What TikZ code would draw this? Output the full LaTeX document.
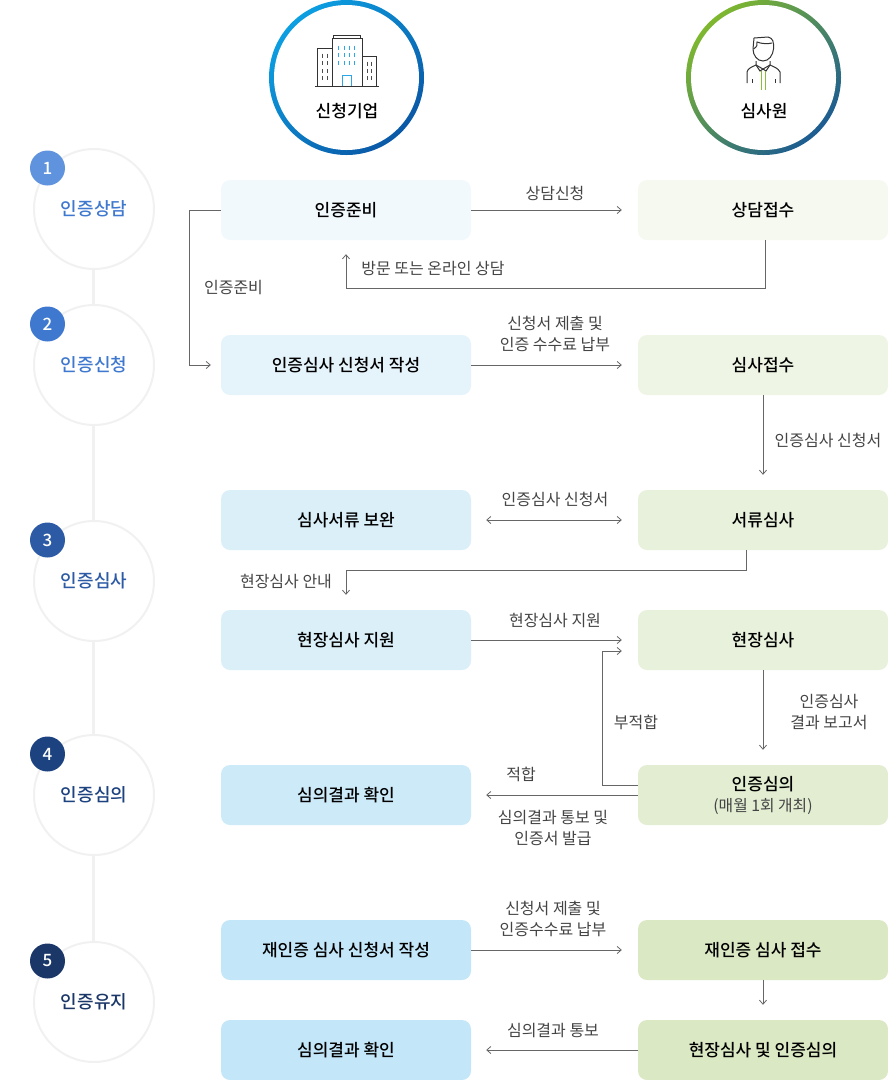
\documentclass[tikz,border=0pt]{standalone}
\usepackage{fontspec}
\setmainfont{Noto Sans CJK KR}
\newfontfamily\krmed{Noto Sans CJK KR Medium}
\usetikzlibrary{arrows.meta, calc}
\definecolor{linegray}{HTML}{666666}
\definecolor{txtgray}{HTML}{444444}
\definecolor{stepgray}{HTML}{F1F1F1}
\definecolor{bluea}{HTML}{F1F9FD}
\definecolor{blueb}{HTML}{E5F3FB}
\definecolor{bluec}{HTML}{DBEFF9}
\definecolor{blued}{HTML}{CDEAF9}
\definecolor{bluee}{HTML}{C3E6F8}
\definecolor{greena}{HTML}{F5F9F0}
\definecolor{greenb}{HTML}{EEF5E4}
\definecolor{greenc}{HTML}{E8F1DC}
\definecolor{greend}{HTML}{E2EDD2}
\definecolor{greene}{HTML}{DBE8C4}
\definecolor{stepa}{HTML}{5F93DE}
\definecolor{stepb}{HTML}{3F78CF}
\definecolor{stepc}{HTML}{2C5AA5}
\definecolor{stepd}{HTML}{1D4280}
\definecolor{stepe}{HTML}{1B3768}
\definecolor{ringblueA}{HTML}{0C9FE2}
\definecolor{ringblueB}{HTML}{0A58A6}
\definecolor{ringgreenA}{HTML}{7FB82E}
\definecolor{ringgreenB}{HTML}{1C5C92}
\definecolor{iconblue}{HTML}{2BA6E6}
\definecolor{icongreen}{HTML}{8DBB3C}
\tikzset{
  box/.style={minimum width=250pt, minimum height=60pt, rounded corners=9pt, inner sep=0pt,
    align=center, text=black, font=\fontsize{17}{20}\selectfont\krmed},
  stepnode/.style={circle, draw=stepgray, line width=2pt, fill=white, minimum size=120pt, inner sep=0pt,
    font=\fontsize{18}{22}\selectfont\krmed},
  badge/.style={circle, minimum size=35pt, inner sep=0pt, text=white, font=\fontsize{17}{20}\selectfont\krmed},
  lab/.style={text=txtgray, align=center, inner sep=0pt, yshift=-1pt, font=\fontsize{16}{20.5}\selectfont},
  flow/.style={linegray, line width=0.8pt, -{Straight Barb[length=4pt, width=7pt]}},
  flowboth/.style={linegray, line width=0.8pt, {Straight Barb[length=4pt, width=7pt]}-{Straight Barb[length=4pt, width=7pt]}},
  icon/.style={line width=1pt, black!80},
  inner/.style={circle, fill=white, minimum size=145pt, inner sep=0pt},
  head/.style={font=\fontsize{17}{20}\selectfont\krmed},
}
\begin{document}
\begin{tikzpicture}[x=1pt, y=-1pt]
\useasboundingbox (0,0) rectangle (888,1080);

% Timeline
\draw[stepgray, line width=3pt] (93.5,209) -- (93.5,1002);

% Steps on the left
\foreach \nm/\yy/\byy/\col/\tcol/\num/\lab in {
  one/209/168/stepa/stepb/1/인증상담,
  two/365/324/stepb/stepb/2/인증신청,
  three/581/540/stepc/stepc/3/인증심사,
  four/795/754/stepd/stepd/4/인증심의,
  five/1002/961/stepe/stepe/5/인증유지} {
  \node[stepnode, text=\tcol] (step\nm) at (94,\yy) {\lab};
  \node[badge, fill=\col] (badge\nm) at (47.5,\byy) {\num};
}

% Header circles
\shade[left color=ringblueA, right color=ringblueB, shading angle=45] (346.5,77.5) circle (77.5);
\shade[left color=ringgreenA, right color=ringgreenB, shading angle=45] (763.5,77.5) circle (77.5);
\node[inner] (firmring) at (346.5,77.5) {};
\node[inner] (auditring) at (763.5,77.5) {};
\node[head] (firm) at (347,111) {신청기업};
\node[head] (audit) at (764,111) {심사원};

% Building icon
\draw[icon] (315,86.5) -- (379,86.5);
\draw[icon] (317,86) -- (317,48) -- (332,48);
\draw[icon] (332,86) -- (332,38.5) -- (362,38.5) -- (362,86);
\draw[icon] (333,38) -- (333,35) -- (360,35) -- (360,38);
\draw[icon] (362,56.5) -- (376.5,56.5) -- (376.5,86);
\draw[iconblue, line width=1pt] (342,86) -- (342,75.5) -- (351,75.5) -- (351,86);
\foreach \xx in {338.5,344,349,354.5} \foreach \yy in {47.5,55,62.5}
  \draw[iconblue, line width=1pt] (\xx,\yy-2) -- (\xx,\yy+2);
\foreach \xx in {322.5,327.5} \foreach \yy in {55.5,63,71,78}
  \draw[black!70, line width=1pt] (\xx,\yy-2) -- (\xx,\yy+2);
\foreach \xx in {367,371.5} \foreach \yy in {63.5,71,78}
  \draw[black!70, line width=1pt] (\xx,\yy-2) -- (\xx,\yy+2);

% Person icon
\draw[icon] (754,38) -- (768,37) .. controls (773,38) and (774,42) .. (773.5,49)
  .. controls (773,55) and (769,61) .. (763,61) .. controls (757,61) and (753,55) .. (753,49) -- (754,38);
\draw[icon] (753.5,49) .. controls (757,47) and (758,44) .. (757,42) .. controls (762,44) and (768,44) .. (772,43);
\draw[icon] (747,83) -- (747,72) .. controls (748,68) and (752,67) .. (756,65) -- (763,69)
  -- (770,65) .. controls (774,67) and (778,68) .. (780,72) -- (780,83);
\draw[icon] (756,61) -- (756,65) -- (760,71) -- (763,69) -- (766,71) -- (770,65) -- (770,61);
\draw[icon] (752,79) -- (752,83) (775,79) -- (775,83);
\draw[icongreen, line width=0.9pt] (761,71) -- (761,89.5) (765.5,71) -- (765.5,89.5);

% Left column
\node[box, fill=bluea] (junbi) at (346,210) {인증준비};
\node[box, fill=blueb] (sincheong) at (346,365) {인증심사 신청서 작성};
\node[box, fill=bluec] (bowan) at (346,520) {심사서류 보완};
\node[box, fill=bluec] (jiwon) at (346,640) {현장심사 지원};
\node[box, fill=blued] (hwagin) at (346,795) {심의결과 확인};
\node[box, fill=bluee] (jaein) at (346,950) {재인증 심사 신청서 작성};
\node[box, fill=bluee] (tongbo) at (346,1050) {심의결과 확인};

% Right column
\node[box, fill=greena] (sangdam) at (763,210) {상담접수};
\node[box, fill=greenb] (jeopsu) at (763,365) {심사접수};
\node[box, fill=greenc] (seoryu) at (763,520) {서류심사};
\node[box, fill=greenc] (hyeonjang) at (763,640) {현장심사};
\node[box, fill=greend] (simui) at (763,795) {인증심의\\[1pt]{\fontsize{15.8}{18}\selectfont\normalfont\color{txtgray}(매월 1회 개최)}};
\node[box, fill=greene] (jaejeop) at (763,950) {재인증 심사 접수};
\node[box, fill=greene] (hyeonsim) at (763,1050) {현장심사 및 인증심의};

% Connectors
\draw[flow] (junbi.east) -- ([xshift=-16pt]sangdam.west);
\draw[flow] ([xshift=2pt]sangdam.south) -- ++(0,48) -| ([yshift=-14pt]junbi.south);
\draw[flow] (junbi.west) -- ++(-31,0) |- ([xshift=-10pt]sincheong.west);
\draw[flow] (sincheong.east) -- ([xshift=-16pt]jeopsu.west);
\draw[flow] (jeopsu.south) -- ([yshift=15pt]seoryu.north);
\draw[flowboth] ([xshift=15pt]bowan.east) -- ([xshift=-16pt]seoryu.west);
\draw[flow] ([xshift=-17pt]seoryu.south) -- ++(0,20) -| ([yshift=15pt]jiwon.north);
\draw[flow] (jiwon.east) -- ([xshift=-16pt]hyeonjang.west);
\draw[flow] (hyeonjang.south) -- ([yshift=15pt]simui.north);
\coordinate (backin) at ([shift={(-16pt,-11pt)}]hyeonjang.west);
\draw[flow] ([yshift=10pt]simui.west) -- ++(-35,0) |- (backin);
\draw[flow] (simui.west) -- ([xshift=15pt]hwagin.east);
\draw[flow] (jaein.east) -- ([xshift=-16pt]jaejeop.west);
\draw[flow] (jaejeop.south) -- ([yshift=15pt]hyeonsim.north);
\draw[flow] (hyeonsim.west) -- ([xshift=15pt]tongbo.east);

% Labels
\node[lab] (labA) at (555,192) {상담신청};
\node[lab] (labB) at (433,268) {방문 또는 온라인 상담};
\node[lab] (labC) at (233.5,287) {인증준비};
\node[lab] (labD) at (555,333) {신청서 제출 및\\인증 수수료 납부};
\node[lab] (labE) at (828,439) {인증심사 신청서};
\node[lab] (labF) at (555,498) {인증심사 신청서};
\node[lab] (labG) at (286,580) {현장심사 안내};
\node[lab] (labH) at (555,619) {현장심사 지원};
\node[lab] (labI) at (636,721) {부적합};
\node[lab] (labJ) at (829,711) {인증심사\\결과 보고서};
\node[lab] (labK) at (521,773) {적합};
\node[lab] (labL) at (553,827) {심의결과 통보 및\\인증서 발급};
\node[lab] (labM) at (553,918) {신청서 제출 및\\인증수수료 납부};
\node[lab] (labN) at (553,1030) {심의결과 통보};

\end{tikzpicture}
\end{document}
